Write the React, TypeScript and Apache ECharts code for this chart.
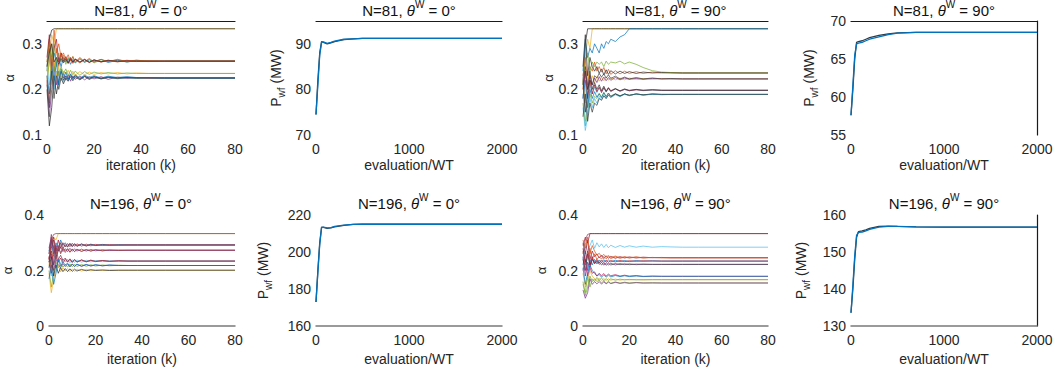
import React, { useEffect, useRef } from "react";
import * as echarts from "echarts";

// ---------- data ----------
const ITER = [0, 1, 2, 3, 4, 5, 6, 7, 8, 9, 10, 11, 12, 14, 16, 18, 20, 23, 26, 30, 34, 38, 43, 50, 80];
const EVALS = [0, 20, 40, 60, 80, 120, 160, 200, 300, 400, 500, 700, 1000, 1500, 2000];

const N_LABELS = ["N=81", "N=81", "N=81", "N=81", "N=196", "N=196", "N=196", "N=196"];
const ANGLES = ["0°", "0°", "90°", "90°", "0°", "0°", "90°", "90°"];

// alpha trajectories, N=81, theta=0
const ALPHA_N81_0 = [
  [0.21, 0.27, 0.32, 0.30, 0.333, 0.333, 0.333, 0.333, 0.333, 0.333, 0.333, 0.333, 0.333, 0.333, 0.333, 0.333, 0.333, 0.333, 0.333, 0.333, 0.333, 0.333, 0.333, 0.333, 0.333],
  [0.25, 0.31, 0.33, 0.333, 0.333, 0.333, 0.333, 0.333, 0.333, 0.333, 0.333, 0.333, 0.333, 0.333, 0.333, 0.333, 0.333, 0.333, 0.333, 0.333, 0.333, 0.333, 0.333, 0.333, 0.333],
  [0.24, 0.29, 0.22, 0.28, 0.26, 0.27, 0.25, 0.27, 0.26, 0.268, 0.255, 0.266, 0.258, 0.267, 0.259, 0.265, 0.26, 0.266, 0.259, 0.264, 0.26, 0.263, 0.261, 0.262, 0.262],
  [0.23, 0.17, 0.26, 0.24, 0.29, 0.25, 0.28, 0.26, 0.27, 0.256, 0.268, 0.257, 0.265, 0.258, 0.266, 0.259, 0.265, 0.26, 0.264, 0.26, 0.264, 0.261, 0.263, 0.262, 0.262],
  [0.26, 0.31, 0.27, 0.30, 0.25, 0.28, 0.26, 0.275, 0.255, 0.27, 0.262, 0.272, 0.258, 0.268, 0.26, 0.266, 0.258, 0.265, 0.261, 0.266, 0.26, 0.264, 0.262, 0.262, 0.262],
  [0.22, 0.14, 0.20, 0.25, 0.21, 0.24, 0.22, 0.235, 0.22, 0.232, 0.218, 0.23, 0.222, 0.229, 0.221, 0.228, 0.223, 0.228, 0.222, 0.227, 0.224, 0.226, 0.225, 0.225, 0.225],
  [0.25, 0.21, 0.27, 0.20, 0.24, 0.21, 0.23, 0.215, 0.228, 0.218, 0.232, 0.22, 0.23, 0.221, 0.229, 0.222, 0.228, 0.223, 0.227, 0.223, 0.226, 0.224, 0.226, 0.225, 0.225],
  [0.20, 0.12, 0.16, 0.23, 0.19, 0.22, 0.24, 0.22, 0.23, 0.222, 0.232, 0.224, 0.23, 0.223, 0.229, 0.224, 0.228, 0.224, 0.227, 0.225, 0.226, 0.225, 0.225, 0.225, 0.225],
  [0.24, 0.28, 0.21, 0.26, 0.23, 0.25, 0.22, 0.24, 0.233, 0.242, 0.23, 0.24, 0.231, 0.239, 0.232, 0.238, 0.233, 0.237, 0.234, 0.237, 0.234, 0.236, 0.235, 0.235, 0.235],
  [0.27, 0.32, 0.25, 0.29, 0.31, 0.26, 0.28, 0.262, 0.272, 0.258, 0.27, 0.259, 0.267, 0.26, 0.266, 0.259, 0.265, 0.26, 0.264, 0.261, 0.263, 0.262, 0.262, 0.262, 0.262],
  [0.23, 0.19, 0.25, 0.22, 0.26, 0.21, 0.245, 0.225, 0.238, 0.222, 0.234, 0.224, 0.232, 0.225, 0.231, 0.226, 0.23, 0.225, 0.229, 0.226, 0.228, 0.226, 0.226, 0.225, 0.225],
  [0.26, 0.30, 0.24, 0.33, 0.28, 0.30, 0.27, 0.28, 0.265, 0.276, 0.262, 0.272, 0.26, 0.27, 0.261, 0.268, 0.26, 0.266, 0.261, 0.265, 0.262, 0.264, 0.262, 0.262, 0.262],
  [0.22, 0.26, 0.30, 0.24, 0.27, 0.23, 0.25, 0.235, 0.245, 0.23, 0.242, 0.232, 0.24, 0.231, 0.239, 0.233, 0.238, 0.234, 0.237, 0.234, 0.236, 0.235, 0.235, 0.235, 0.235],
  [0.21, 0.16, 0.24, 0.18, 0.23, 0.20, 0.225, 0.212, 0.225, 0.218, 0.228, 0.219, 0.227, 0.221, 0.228, 0.222, 0.227, 0.223, 0.226, 0.224, 0.226, 0.225, 0.225, 0.225, 0.225],
  [0.25, 0.28, 0.30, 0.26, 0.27, 0.255, 0.268, 0.258, 0.266, 0.258, 0.267, 0.26, 0.266, 0.26, 0.265, 0.26, 0.264, 0.261, 0.263, 0.262, 0.262, 0.262, 0.262, 0.262, 0.262],
];
const COLORS_N81_0 = ["#EDB120", "#262626", "#0072BD", "#D95319", "#77AC30", "#7E2F8E", "#4DBEEE", "#262626", "#EDB120", "#A2142F", "#0072BD", "#D95319", "#77AC30", "#404040", "#333333"];

// alpha trajectories, N=81, theta=90
const ALPHA_N81_90 = [
  [0.20, 0.27, 0.31, 0.29, 0.333, 0.333, 0.333, 0.333, 0.333, 0.333, 0.333, 0.333, 0.333, 0.333, 0.333, 0.333, 0.333, 0.333, 0.333, 0.333, 0.333, 0.333, 0.333, 0.333, 0.333],
  [0.22, 0.30, 0.333, 0.333, 0.333, 0.333, 0.333, 0.333, 0.333, 0.333, 0.333, 0.333, 0.333, 0.333, 0.333, 0.333, 0.333, 0.333, 0.333, 0.333, 0.333, 0.333, 0.333, 0.333, 0.333],
  [0.24, 0.31, 0.27, 0.29, 0.28, 0.30, 0.29, 0.28, 0.30, 0.29, 0.305, 0.30, 0.31, 0.305, 0.315, 0.32, 0.333, 0.333, 0.333, 0.333, 0.333, 0.333, 0.333, 0.333, 0.333],
  [0.23, 0.27, 0.21, 0.25, 0.24, 0.26, 0.24, 0.25, 0.238, 0.248, 0.234, 0.244, 0.233, 0.241, 0.234, 0.24, 0.235, 0.239, 0.235, 0.238, 0.236, 0.237, 0.236, 0.236, 0.236],
  [0.21, 0.26, 0.28, 0.24, 0.26, 0.25, 0.26, 0.255, 0.26, 0.25, 0.262, 0.255, 0.26, 0.258, 0.262, 0.256, 0.26, 0.255, 0.248, 0.241, 0.238, 0.237, 0.236, 0.236, 0.236],
  [0.22, 0.17, 0.24, 0.21, 0.23, 0.215, 0.228, 0.218, 0.227, 0.219, 0.227, 0.22, 0.226, 0.221, 0.225, 0.221, 0.225, 0.222, 0.224, 0.222, 0.224, 0.223, 0.223, 0.223, 0.223],
  [0.18, 0.24, 0.20, 0.23, 0.21, 0.225, 0.215, 0.228, 0.218, 0.227, 0.219, 0.226, 0.22, 0.226, 0.221, 0.225, 0.222, 0.224, 0.222, 0.224, 0.223, 0.223, 0.223, 0.223, 0.223],
  [0.19, 0.13, 0.17, 0.21, 0.19, 0.205, 0.193, 0.203, 0.195, 0.203, 0.194, 0.202, 0.195, 0.201, 0.196, 0.2, 0.197, 0.2, 0.197, 0.199, 0.198, 0.198, 0.198, 0.198, 0.198],
  [0.20, 0.24, 0.18, 0.22, 0.19, 0.21, 0.195, 0.205, 0.193, 0.204, 0.195, 0.203, 0.196, 0.201, 0.196, 0.2, 0.197, 0.199, 0.198, 0.199, 0.198, 0.198, 0.198, 0.198, 0.198],
  [0.17, 0.12, 0.15, 0.19, 0.17, 0.185, 0.18, 0.192, 0.183, 0.193, 0.184, 0.192, 0.185, 0.191, 0.186, 0.19, 0.187, 0.19, 0.188, 0.19, 0.189, 0.189, 0.189, 0.189, 0.189],
  [0.18, 0.22, 0.16, 0.20, 0.18, 0.195, 0.183, 0.19, 0.182, 0.193, 0.184, 0.192, 0.185, 0.19, 0.186, 0.19, 0.187, 0.19, 0.188, 0.189, 0.189, 0.189, 0.189, 0.189, 0.189],
  [0.25, 0.32, 0.23, 0.27, 0.25, 0.24, 0.25, 0.235, 0.245, 0.232, 0.243, 0.233, 0.241, 0.234, 0.24, 0.235, 0.239, 0.235, 0.238, 0.236, 0.237, 0.236, 0.236, 0.236, 0.236],
  [0.16, 0.11, 0.14, 0.18, 0.16, 0.18, 0.17, 0.185, 0.178, 0.187, 0.18, 0.188, 0.182, 0.188, 0.184, 0.189, 0.186, 0.19, 0.187, 0.19, 0.188, 0.189, 0.189, 0.189, 0.189],
  [0.21, 0.25, 0.20, 0.22, 0.21, 0.23, 0.225, 0.235, 0.227, 0.234, 0.225, 0.232, 0.224, 0.229, 0.223, 0.227, 0.223, 0.226, 0.223, 0.225, 0.223, 0.224, 0.223, 0.223, 0.223],
  [0.22, 0.15, 0.19, 0.24, 0.20, 0.215, 0.20, 0.21, 0.197, 0.207, 0.196, 0.204, 0.197, 0.202, 0.197, 0.201, 0.198, 0.2, 0.198, 0.199, 0.198, 0.198, 0.198, 0.198, 0.198],
  [0.14, 0.19, 0.13, 0.17, 0.15, 0.17, 0.165, 0.18, 0.176, 0.186, 0.18, 0.188, 0.183, 0.19, 0.185, 0.19, 0.187, 0.19, 0.188, 0.19, 0.189, 0.189, 0.189, 0.189, 0.189],
];
const COLORS_N81_90 = ["#EDB120", "#262626", "#0072BD", "#D95319", "#77AC30", "#EDB120", "#7E2F8E", "#4DBEEE", "#A2142F", "#77AC30", "#0072BD", "#333333", "#4DBEEE", "#404040", "#333333", "#3a3a3a"];

// alpha trajectories, N=196, theta=0
const ALPHA_N196_0 = [
  [0.22, 0.29, 0.32, 0.31, 0.333, 0.333, 0.333, 0.333, 0.333, 0.333, 0.333, 0.333, 0.333, 0.333, 0.333, 0.333, 0.333, 0.333, 0.333, 0.333, 0.333, 0.333, 0.333, 0.333, 0.333],
  [0.26, 0.31, 0.33, 0.333, 0.333, 0.333, 0.333, 0.333, 0.333, 0.333, 0.333, 0.333, 0.333, 0.333, 0.333, 0.333, 0.333, 0.333, 0.333, 0.333, 0.333, 0.333, 0.333, 0.333, 0.333],
  [0.27, 0.31, 0.25, 0.30, 0.28, 0.31, 0.29, 0.30, 0.286, 0.298, 0.287, 0.297, 0.288, 0.296, 0.289, 0.295, 0.29, 0.294, 0.291, 0.293, 0.292, 0.292, 0.292, 0.292, 0.292],
  [0.24, 0.30, 0.32, 0.27, 0.31, 0.28, 0.30, 0.285, 0.297, 0.286, 0.298, 0.287, 0.296, 0.288, 0.295, 0.289, 0.294, 0.29, 0.293, 0.291, 0.292, 0.292, 0.292, 0.292, 0.292],
  [0.25, 0.21, 0.29, 0.26, 0.28, 0.265, 0.28, 0.27, 0.279, 0.266, 0.278, 0.268, 0.277, 0.269, 0.276, 0.27, 0.275, 0.271, 0.274, 0.272, 0.273, 0.273, 0.273, 0.273, 0.273],
  [0.28, 0.32, 0.26, 0.29, 0.27, 0.285, 0.268, 0.279, 0.268, 0.28, 0.269, 0.278, 0.27, 0.277, 0.27, 0.276, 0.271, 0.275, 0.272, 0.274, 0.273, 0.273, 0.273, 0.273, 0.273],
  [0.22, 0.18, 0.25, 0.21, 0.24, 0.225, 0.242, 0.23, 0.24, 0.228, 0.239, 0.229, 0.238, 0.23, 0.237, 0.231, 0.236, 0.232, 0.235, 0.233, 0.234, 0.234, 0.234, 0.234, 0.234],
  [0.24, 0.27, 0.22, 0.25, 0.23, 0.245, 0.228, 0.24, 0.23, 0.24, 0.229, 0.239, 0.23, 0.238, 0.231, 0.237, 0.232, 0.236, 0.233, 0.235, 0.234, 0.234, 0.234, 0.234, 0.234],
  [0.20, 0.14, 0.19, 0.23, 0.21, 0.225, 0.212, 0.222, 0.212, 0.224, 0.213, 0.223, 0.214, 0.222, 0.215, 0.221, 0.216, 0.22, 0.217, 0.219, 0.218, 0.218, 0.218, 0.218, 0.218],
  [0.23, 0.26, 0.20, 0.24, 0.22, 0.21, 0.225, 0.214, 0.224, 0.213, 0.223, 0.214, 0.222, 0.215, 0.221, 0.216, 0.22, 0.217, 0.219, 0.218, 0.218, 0.218, 0.218, 0.218, 0.218],
  [0.19, 0.12, 0.17, 0.20, 0.22, 0.195, 0.21, 0.198, 0.207, 0.196, 0.206, 0.197, 0.205, 0.198, 0.204, 0.199, 0.203, 0.2, 0.202, 0.201, 0.201, 0.201, 0.201, 0.201, 0.201],
  [0.21, 0.25, 0.18, 0.22, 0.19, 0.21, 0.196, 0.207, 0.196, 0.206, 0.197, 0.205, 0.198, 0.204, 0.199, 0.203, 0.2, 0.202, 0.2, 0.201, 0.201, 0.201, 0.201, 0.201, 0.201],
  [0.26, 0.33, 0.28, 0.24, 0.29, 0.26, 0.28, 0.265, 0.278, 0.266, 0.277, 0.268, 0.276, 0.269, 0.275, 0.27, 0.275, 0.271, 0.274, 0.272, 0.273, 0.273, 0.273, 0.273, 0.273],
  [0.23, 0.28, 0.31, 0.25, 0.27, 0.30, 0.28, 0.293, 0.284, 0.297, 0.286, 0.296, 0.287, 0.295, 0.288, 0.294, 0.29, 0.293, 0.291, 0.292, 0.292, 0.292, 0.292, 0.292, 0.292],
  [0.17, 0.22, 0.15, 0.19, 0.24, 0.215, 0.23, 0.22, 0.226, 0.214, 0.224, 0.215, 0.223, 0.216, 0.222, 0.217, 0.221, 0.217, 0.22, 0.218, 0.218, 0.218, 0.218, 0.218, 0.218],
  [0.25, 0.19, 0.23, 0.28, 0.24, 0.255, 0.236, 0.245, 0.232, 0.242, 0.23, 0.24, 0.231, 0.238, 0.232, 0.237, 0.233, 0.236, 0.233, 0.235, 0.234, 0.234, 0.234, 0.234, 0.234],
];
const COLORS_N196_0 = ["#EDB120", "#8c3b55", "#0072BD", "#A2142F", "#D95319", "#7E2F8E", "#4DBEEE", "#A2142F", "#77AC30", "#7E2F8E", "#EDB120", "#262626", "#8c3b55", "#6b2a40", "#0072BD", "#7a3350"];

// alpha trajectories, N=196, theta=90
const ALPHA_N196_90 = [
  [0.29, 0.32, 0.30, 0.333, 0.333, 0.333, 0.333, 0.333, 0.333, 0.333, 0.333, 0.333, 0.333, 0.333, 0.333, 0.333, 0.333, 0.333, 0.333, 0.333, 0.333, 0.333, 0.333, 0.333, 0.333],
  [0.26, 0.31, 0.33, 0.333, 0.333, 0.333, 0.333, 0.333, 0.333, 0.333, 0.333, 0.333, 0.333, 0.333, 0.333, 0.333, 0.333, 0.333, 0.333, 0.333, 0.333, 0.333, 0.333, 0.333, 0.333],
  [0.24, 0.30, 0.27, 0.29, 0.31, 0.28, 0.30, 0.285, 0.296, 0.283, 0.294, 0.282, 0.291, 0.283, 0.29, 0.284, 0.289, 0.284, 0.288, 0.284, 0.286, 0.285, 0.284, 0.284, 0.284],
  [0.30, 0.26, 0.31, 0.24, 0.27, 0.25, 0.26, 0.245, 0.255, 0.243, 0.253, 0.244, 0.251, 0.244, 0.25, 0.245, 0.249, 0.245, 0.248, 0.246, 0.247, 0.246, 0.246, 0.246, 0.246],
  [0.27, 0.22, 0.25, 0.28, 0.24, 0.26, 0.24, 0.25, 0.241, 0.251, 0.242, 0.25, 0.243, 0.249, 0.244, 0.248, 0.245, 0.248, 0.245, 0.247, 0.246, 0.246, 0.246, 0.246, 0.246],
  [0.22, 0.27, 0.20, 0.24, 0.22, 0.24, 0.228, 0.238, 0.229, 0.239, 0.23, 0.238, 0.231, 0.237, 0.232, 0.236, 0.232, 0.236, 0.233, 0.235, 0.234, 0.234, 0.234, 0.234, 0.234],
  [0.25, 0.18, 0.23, 0.21, 0.24, 0.225, 0.235, 0.222, 0.23, 0.219, 0.228, 0.22, 0.226, 0.22, 0.225, 0.221, 0.224, 0.221, 0.223, 0.222, 0.222, 0.222, 0.222, 0.222, 0.222],
  [0.16, 0.11, 0.14, 0.18, 0.16, 0.17, 0.16, 0.165, 0.155, 0.163, 0.154, 0.161, 0.154, 0.159, 0.154, 0.158, 0.155, 0.157, 0.155, 0.156, 0.155, 0.155, 0.155, 0.155, 0.155],
  [0.19, 0.14, 0.17, 0.20, 0.18, 0.17, 0.165, 0.172, 0.163, 0.171, 0.164, 0.17, 0.165, 0.169, 0.165, 0.168, 0.166, 0.168, 0.166, 0.167, 0.167, 0.167, 0.167, 0.167, 0.167],
  [0.20, 0.24, 0.18, 0.21, 0.19, 0.195, 0.18, 0.19, 0.181, 0.189, 0.18, 0.187, 0.181, 0.185, 0.18, 0.183, 0.18, 0.182, 0.179, 0.18, 0.179, 0.179, 0.179, 0.179, 0.179],
  [0.21, 0.15, 0.19, 0.22, 0.20, 0.19, 0.18, 0.186, 0.176, 0.184, 0.176, 0.183, 0.177, 0.182, 0.178, 0.181, 0.178, 0.18, 0.178, 0.179, 0.179, 0.179, 0.179, 0.179, 0.179],
  [0.13, 0.10, 0.12, 0.17, 0.15, 0.16, 0.152, 0.16, 0.151, 0.159, 0.152, 0.158, 0.153, 0.157, 0.154, 0.156, 0.154, 0.156, 0.155, 0.155, 0.155, 0.155, 0.155, 0.155, 0.155],
  [0.31, 0.28, 0.32, 0.26, 0.29, 0.27, 0.255, 0.262, 0.25, 0.258, 0.248, 0.254, 0.247, 0.252, 0.246, 0.25, 0.246, 0.249, 0.246, 0.247, 0.246, 0.246, 0.246, 0.246, 0.246],
  [0.24, 0.20, 0.26, 0.22, 0.24, 0.23, 0.225, 0.23, 0.22, 0.228, 0.219, 0.226, 0.22, 0.225, 0.221, 0.224, 0.221, 0.223, 0.222, 0.222, 0.222, 0.222, 0.222, 0.222, 0.222],
  [0.15, 0.12, 0.18, 0.14, 0.17, 0.16, 0.175, 0.165, 0.173, 0.163, 0.171, 0.164, 0.17, 0.165, 0.169, 0.166, 0.168, 0.166, 0.167, 0.167, 0.167, 0.167, 0.167, 0.167, 0.167],
  [0.28, 0.23, 0.27, 0.22, 0.25, 0.225, 0.24, 0.228, 0.238, 0.229, 0.237, 0.23, 0.236, 0.231, 0.236, 0.232, 0.235, 0.233, 0.235, 0.234, 0.234, 0.234, 0.234, 0.234, 0.234],
];
const COLORS_N196_90 = ["#A2142F", "#8c3b55", "#4DBEEE", "#A2142F", "#D95319", "#0072BD", "#7E2F8E", "#77AC30", "#EDB120", "#c2185b", "#0072BD", "#7E2F8E", "#D95319", "#404040", "#77AC30", "#A2142F"];

// wind farm power trajectories (MW)
const POWER_N81_0 = [
  [74.5, 82, 88, 90.5, 90.3, 90.0, 90.2, 90.5, 90.9, 91.1, 91.2, 91.2, 91.2, 91.2, 91.2],
  [74.5, 81, 87.5, 90.3, 90.4, 90.1, 90.3, 90.6, 91.0, 91.1, 91.2, 91.2, 91.2, 91.2, 91.2],
];
const POWER_N81_90 = [
  [57.6, 61, 65, 67.2, 67.3, 67.4, 67.6, 67.8, 68.1, 68.3, 68.45, 68.5, 68.5, 68.5, 68.5],
  [57.6, 61.5, 65.5, 67.0, 67.1, 67.2, 67.4, 67.6, 67.9, 68.2, 68.4, 68.5, 68.5, 68.5, 68.5],
];
const POWER_N196_0 = [
  [173, 190, 205, 213.5, 213.3, 212.8, 213.0, 213.6, 214.4, 214.9, 215, 215, 215, 215, 215],
  [173, 189, 204, 213.2, 213.4, 213.0, 213.2, 213.8, 214.5, 214.9, 215, 215, 215, 215, 215],
];
const POWER_N196_90 = [
  [133.6, 140, 148, 154, 155.5, 155.7, 156.0, 156.4, 156.9, 157, 156.9, 156.8, 156.7, 156.7, 156.7],
  [133.6, 141, 149, 154.5, 155.3, 155.4, 155.7, 156.1, 156.7, 156.9, 156.9, 156.8, 156.7, 156.7, 156.7],
];
const POWER_COLORS = ["#2f3b45", "#0072BD"];

// ---------- layout / style ----------
const FONT = "'Liberation Sans', Arial, Helvetica, sans-serif";
const TXT = "#262626";

type Panel = {
  kind: "alpha" | "power";
  traces: number[][];
  colors: string[];
  grid: { left: number; top: number; width: number; height: number };
  y: { min: number; max: number; interval: number };
  topLine: boolean;
  rightLine: boolean;
  bottomLine: boolean;
  yGap: number;
  xGap: number;
  titleOffset: number;
};

const PANELS: Panel[] = [
  { kind: "alpha", traces: ALPHA_N81_0, colors: COLORS_N81_0, grid: { left: 47, top: 21, width: 188, height: 114 }, y: { min: 0.1, max: 0.35, interval: 0.1 }, topLine: true, rightLine: false, bottomLine: false, yGap: 31, xGap: 23, titleOffset: 22 },
  { kind: "power", traces: POWER_N81_0, colors: POWER_COLORS, grid: { left: 316, top: 21, width: 186, height: 114 }, y: { min: 70, max: 95, interval: 10 }, topLine: true, rightLine: false, bottomLine: false, yGap: 30, xGap: 23, titleOffset: 22 },
  { kind: "alpha", traces: ALPHA_N81_90, colors: COLORS_N81_90, grid: { left: 583, top: 21, width: 185, height: 114 }, y: { min: 0.1, max: 0.35, interval: 0.1 }, topLine: true, rightLine: false, bottomLine: false, yGap: 28, xGap: 23, titleOffset: 22 },
  { kind: "power", traces: POWER_N81_90, colors: POWER_COLORS, grid: { left: 851, top: 21, width: 186, height: 114 }, y: { min: 55, max: 70, interval: 5 }, topLine: true, rightLine: true, bottomLine: false, yGap: 32, xGap: 23, titleOffset: 22 },
  { kind: "alpha", traces: ALPHA_N196_0, colors: COLORS_N196_0, grid: { left: 47, top: 215, width: 188, height: 111 }, y: { min: 0, max: 0.4, interval: 0.2 }, topLine: false, rightLine: false, bottomLine: true, yGap: 35, xGap: 26, titleOffset: 23 },
  { kind: "power", traces: POWER_N196_0, colors: POWER_COLORS, grid: { left: 316, top: 215, width: 186, height: 111 }, y: { min: 160, max: 220, interval: 20 }, topLine: false, rightLine: false, bottomLine: true, yGap: 43, xGap: 26, titleOffset: 23 },
  { kind: "alpha", traces: ALPHA_N196_90, colors: COLORS_N196_90, grid: { left: 583, top: 215, width: 185, height: 111 }, y: { min: 0, max: 0.4, interval: 0.2 }, topLine: false, rightLine: false, bottomLine: true, yGap: 35, xGap: 26, titleOffset: 23 },
  { kind: "power", traces: POWER_N196_90, colors: POWER_COLORS, grid: { left: 851, top: 215, width: 186, height: 111 }, y: { min: 130, max: 160, interval: 10 }, topLine: false, rightLine: true, bottomLine: true, yGap: 40, xGap: 26, titleOffset: 23 },
];

function fmt(v: number) {
  return String(Math.round(v * 1000) / 1000);
}

function buildOption() {
  const grids: any[] = [];
  const xAxes: any[] = [];
  const yAxes: any[] = [];
  const series: any[] = [];
  const titles: any[] = [];

  const labelStyle = { fontFamily: FONT, fontSize: 14, color: TXT };

  PANELS.forEach((p, gi) => {
    grids.push({ ...p.grid, containLabel: false });
    const isAlpha = p.kind === "alpha";
    const xMax = isAlpha ? 80 : 2000;
    const xInt = isAlpha ? 20 : 1000;
    const maxOnTick = Math.abs(p.y.max / p.y.interval - Math.round(p.y.max / p.y.interval)) < 1e-9;

    const xi = xAxes.length;
    xAxes.push({
      type: "value",
      gridIndex: gi,
      min: 0,
      max: xMax,
      interval: xInt,
      axisLine: { show: p.bottomLine, onZero: false, lineStyle: { color: "#7a7a7a", width: 1.5 } },
      axisTick: { show: false },
      splitLine: { show: false },
      axisLabel: { ...labelStyle, margin: 7, formatter: fmt },
      name: isAlpha ? "iteration (k)" : "evaluation/WT",
      nameLocation: "middle",
      nameGap: p.xGap,
      nameTextStyle: { ...labelStyle },
    });
    const yi = yAxes.length;
    yAxes.push({
      type: "value",
      gridIndex: gi,
      min: p.y.min,
      max: p.y.max,
      interval: p.y.interval,
      axisLine: { show: false },
      axisTick: { show: false },
      splitLine: { show: false },
      axisLabel: { ...labelStyle, margin: 5, showMaxLabel: maxOnTick, formatter: fmt },
      name: isAlpha ? "α" : "{p|P}{s|wf}{p| (MW)}",
      nameLocation: "middle",
      nameRotate: 90,
      nameGap: p.yGap,
      nameTextStyle: isAlpha
        ? { ...labelStyle, fontSize: 13 }
        : {
            ...labelStyle,
            rich: {
              p: { fontFamily: FONT, fontSize: 14, color: TXT, lineHeight: 20 },
              s: { fontFamily: FONT, fontSize: 10, color: TXT, lineHeight: 10, verticalAlign: "bottom" },
            },
          },
    });
    if (p.topLine) {
      xAxes.push({
        type: "value",
        gridIndex: gi,
        position: "top",
        min: 0,
        max: xMax,
        axisLine: { show: true, onZero: false, lineStyle: { color: "#1a1a1a", width: 1.2 } },
        axisTick: { show: false },
        axisLabel: { show: false },
        splitLine: { show: false },
      });
    }
    if (p.rightLine) {
      yAxes.push({
        type: "value",
        gridIndex: gi,
        position: "right",
        min: p.y.min,
        max: p.y.max,
        axisLine: { show: true, onZero: false, lineStyle: { color: "#1a1a1a", width: 1.2 } },
        axisTick: { show: false },
        axisLabel: { show: false },
        splitLine: { show: false },
      });
    }

    const xs = isAlpha ? ITER : EVALS;
    p.traces.forEach((tr, ti) => {
      series.push({
        type: "line",
        xAxisIndex: xi,
        yAxisIndex: yi,
        data: xs.map((x, k) => [x, tr[k]]),
        showSymbol: false,
        symbol: "none",
        silent: true,
        lineStyle: { width: isAlpha ? 0.8 : 1.3, color: p.colors[ti % p.colors.length], opacity: isAlpha ? 0.9 : 1 },
        z: 2,
      });
    });

    titles.push({
      text: `{n|${N_LABELS[gi]}, }{t|θ}{s|W}{n| = ${ANGLES[gi]}}`,
      left: p.grid.left + p.grid.width / 2,
      top: p.grid.top - p.titleOffset,
      textAlign: "center",
      padding: 0,
      textStyle: {
        fontWeight: "normal",
        rich: {
          n: { fontFamily: FONT, fontSize: 15, fontWeight: "normal", color: "#111", lineHeight: 22 },
          t: { fontFamily: FONT, fontSize: 15, fontWeight: "normal", color: "#111", lineHeight: 22, fontStyle: "italic" },
          s: { fontFamily: FONT, fontSize: 10, fontWeight: "normal", color: "#111", lineHeight: 12, verticalAlign: "top" },
        },
      },
    });
  });

  return {
    animation: false,
    backgroundColor: "#ffffff",
    title: titles,
    grid: grids,
    xAxis: xAxes,
    yAxis: yAxes,
    series,
  };
}

export default function App() {
  const ref = useRef<HTMLDivElement>(null);
  useEffect(() => {
    document.body.style.margin = "0";
    const chart = echarts.init(ref.current!, null, { renderer: "svg" });
    chart.setOption(buildOption());
    return () => chart.dispose();
  }, []);
  return <div ref={ref} style={{ width: 1057, height: 372, background: "#fff" }} />;
}
